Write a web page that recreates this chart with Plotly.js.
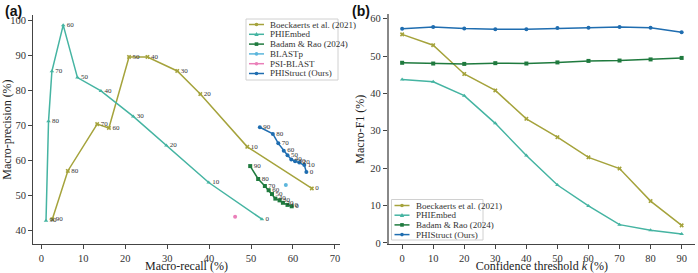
<!DOCTYPE html>
<html><head><meta charset="utf-8">
<script src="https://cdn.plot.ly/plotly-3.0.1.min.js"></script>
<style>html,body{margin:0;padding:0;background:#fff}#c{width:698px;height:273px}</style>
</head><body><div id="c"></div>
<script>
// Panel (a): recall / precision per confidence threshold
const thrA = ["90","80","70","60","50","40","30","20","10","0"];
const boeRecall = [2.6, 6.3, 13.3, 16.1, 20.9, 25.3, 32.4, 37.9, 49.1, 64.5];
const boePrec   = [43.1, 56.9, 70.3, 69.2, 89.5, 89.5, 85.5, 78.9, 63.8, 51.9];
const embRecall = [1.1, 1.7, 2.5, 5.2, 8.6, 14.2, 21.9, 29.8, 39.9, 52.6];
const embPrec   = [42.7, 71.1, 85.4, 98.6, 83.6, 79.8, 72.5, 64.2, 53.6, 43.1];
const badRecall = [49.8, 51.7, 53.3, 54.2, 55.0, 55.8, 56.8, 57.6, 58.7, 59.7];
const badPrec   = [58.3, 54.6, 52.6, 51.4, 50.3, 49.0, 48.5, 47.8, 47.2, 46.8];
const strRecall = [52.1, 55.2, 56.5, 57.8, 58.7, 59.6, 60.5, 61.5, 62.7, 63.2];
const strPrec   = [69.4, 67.5, 64.8, 62.7, 61.4, 60.2, 59.7, 59.3, 58.6, 56.6];
const blastpRecall = [58.3], blastpPrec = [52.9];
const psiRecall = [46.2], psiPrec = [43.8];

// Panel (b): Macro-F1 vs confidence threshold k
const thrB = [0, 10, 20, 30, 40, 50, 60, 70, 80, 90];
const boeF1 = [55.8, 52.9, 45.2, 40.8, 33.2, 28.3, 22.9, 19.9, 11.2, 4.7];
const embF1 = [43.7, 43.1, 39.4, 32.0, 23.4, 15.5, 9.9, 4.9, 3.4, 2.4];
const badF1 = [48.2, 48.0, 47.9, 48.1, 48.0, 48.3, 48.7, 48.8, 49.1, 49.5];
const strF1 = [57.3, 57.8, 57.4, 57.2, 57.2, 57.5, 57.6, 57.8, 57.6, 56.4];

const names = ["Boeckaerts et al. (2021)", "PHIEmbed", "Badam &amp; Rao (2024)", "BLASTp", "PSI-BLAST", "PHIStruct (Ours)"];
const cBoe="#a5a33c", cEmb="#45b4a2", cBad="#1f7a3e", cBlp="#5cb6dc", cPsi="#ea7fb9", cStr="#1f6db0";
const serif = "Liberation Serif, Times New Roman, serif";
const lblFont = {family: serif, size: 7, color: "#333"};

function lineTrace(x, y, color, symbol, xa, ya, text) {
  const t = {x, y, type:"scatter", mode: text ? "lines+markers+text" : "lines+markers",
    line:{color, width:1.5}, marker:{color, symbol, size:4}, showlegend:false,
    xaxis:xa, yaxis:ya, cliponaxis:false, hoverinfo:"skip"};
  if (text) { t.text = text; t.textposition = "middle right"; t.textfont = lblFont; }
  return t;
}

const data = [
  lineTrace(boeRecall, boePrec, cBoe, "x", "x", "y", thrA),
  lineTrace(embRecall, embPrec, cEmb, "triangle-up", "x", "y", thrA),
  lineTrace(badRecall, badPrec, cBad, "square", "x", "y", thrA),
  lineTrace(blastpRecall, blastpPrec, cBlp, "circle", "x", "y", null),
  lineTrace(psiRecall, psiPrec, cPsi, "circle", "x", "y", null),
  lineTrace(strRecall, strPrec, cStr, "circle", "x", "y", thrA),
  lineTrace(thrB, boeF1, cBoe, "x", "x2", "y2", null),
  lineTrace(thrB, embF1, cEmb, "triangle-up", "x2", "y2", null),
  lineTrace(thrB, badF1, cBad, "square", "x2", "y2", null),
  lineTrace(thrB, strF1, cStr, "circle", "x2", "y2", null)
];

// Manual compact legends (paper coordinates from pixel positions)
const W = 698, H = 273;
const px = v => v / W, py = v => 1 - v / H;
const shapes = [], annotations = [];
function legendBox(x0, y0, x1, y1) {
  shapes.push({type:"rect", xref:"paper", yref:"paper", x0:px(x0), x1:px(x1), y0:py(y0), y1:py(y1),
    line:{color:"#d0d0d0", width:1}, fillcolor:"rgba(255,255,255,0.92)", layer:"above"});
}
function legendItem(x, y, name, color, sym) {
  shapes.push({type:"line", xref:"paper", yref:"paper", x0:px(x), x1:px(x+15), y0:py(y), y1:py(y),
    line:{color, width:1.5}, layer:"above"});
  const cx = x + 7.5, s = 1.8;
  if (sym === "square") shapes.push({type:"rect", xref:"paper", yref:"paper", x0:px(cx-s), x1:px(cx+s), y0:py(y-s), y1:py(y+s), fillcolor:color, line:{width:0}, layer:"above"});
  else if (sym === "tri") shapes.push({type:"path", xref:"paper", yref:"paper",
    path:`M ${px(cx-2.2)} ${py(y+1.8)} L ${px(cx+2.2)} ${py(y+1.8)} L ${px(cx)} ${py(y-2.2)} Z`, fillcolor:color, line:{width:0}, layer:"above"});
  else shapes.push({type:"circle", xref:"paper", yref:"paper", x0:px(cx-s), x1:px(cx+s), y0:py(y-s), y1:py(y+s), fillcolor:color, line:{width:0}, layer:"above"});
  annotations.push({text:name, xref:"paper", yref:"paper", x:px(x+19), y:py(y), xanchor:"left", yanchor:"middle",
    showarrow:false, font:{family:serif, size:9, color:"#333"}});
}
legendBox(246, 19, 338, 80);
[[names[0],cBoe,"x"],[names[1],cEmb,"tri"],[names[2],cBad,"square"],[names[3],cBlp,"circle"],[names[4],cPsi,"circle"],[names[5],cStr,"circle"]]
  .forEach((e, i) => legendItem(249, 24.5 + i * 9.8, e[0], e[1], e[2]));
legendBox(391.5, 199.5, 483, 240);
[[names[0],cBoe,"x"],[names[1],cEmb,"tri"],[names[2],cBad,"square"],[names[5],cStr,"circle"]]
  .forEach((e, i) => legendItem(394.5, 205.5 + i * 9.7, e[0], e[1], e[2]));

annotations.push(
  {text:"<b>(a)</b>", xref:"paper", yref:"paper", x:0.005, y:0.995, xanchor:"left", yanchor:"top",
   showarrow:false, font:{family:"Liberation Sans, Arial, sans-serif", size:14, color:"#111"}},
  {text:"<b>(b)</b>", xref:"paper", yref:"paper", x:0.502, y:0.995, xanchor:"left", yanchor:"top",
   showarrow:false, font:{family:"Liberation Sans, Arial, sans-serif", size:14, color:"#111"}});

const axBase = {showgrid:false, zeroline:false, showline:true, linecolor:"#444", linewidth:1,
  ticks:"outside", ticklen:4, tickcolor:"#444", tickfont:{family:serif, size:10.5, color:"#333"}};
const titleFont = {family: serif, size: 12, color: "#222"};

const layout = {
  width:W, height:H, margin:{l:0, r:0, t:0, b:0},
  paper_bgcolor:"#fff", plot_bgcolor:"#fff", showlegend:false,
  xaxis: Object.assign({}, axBase, {domain:[0.0473, 0.487], range:[-2, 71.2], tickvals:[0,10,20,30,40,50,60,70],
    title:{text:"Macro-recall (%)", font:titleFont, standoff:5}, anchor:"y"}),
  yaxis: Object.assign({}, axBase, {domain:[0.106, 0.945], range:[36, 101.5], tickvals:[40,50,60,70,80,90,100],
    title:{text:"Macro-precision (%)", font:titleFont, standoff:5}, anchor:"x"}),
  xaxis2: Object.assign({}, axBase, {domain:[0.557, 0.9957], range:[-4.3, 94.3], tickvals:thrB,
    title:{text:"Confidence threshold <i>k</i> (%)", font:titleFont, standoff:5}, anchor:"y2"}),
  yaxis2: Object.assign({}, axBase, {domain:[0.106, 0.948], range:[-0.3, 61.2], tickvals:[0,10,20,30,40,50,60],
    linecolor:"#888", linewidth:2, title:{text:"Macro-F1 (%)", font:titleFont, standoff:3}, anchor:"x2"}),
  shapes, annotations
};

Plotly.newPlot("c", data, layout, {displayModeBar:false, staticPlot:true});
</script>
</body></html>
